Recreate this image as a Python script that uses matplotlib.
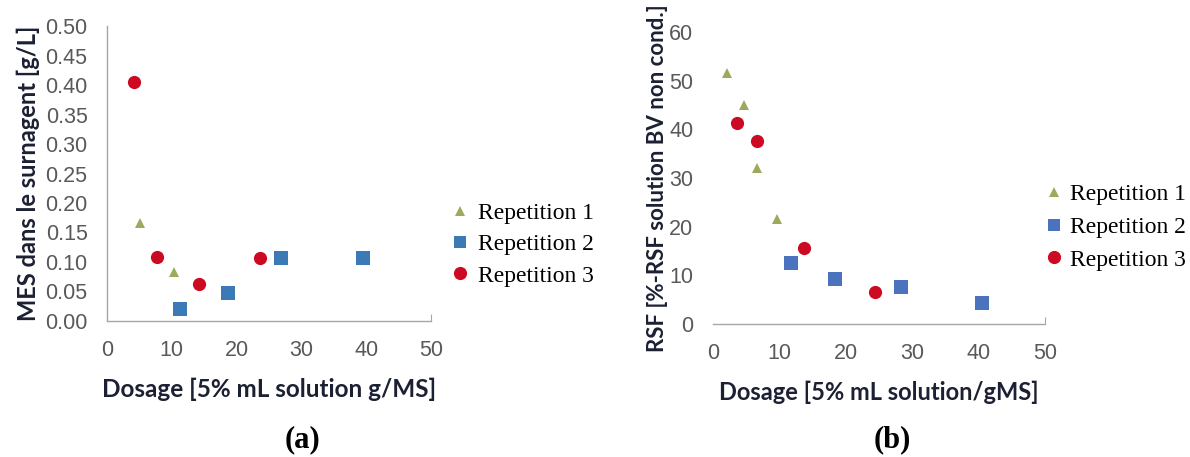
import matplotlib
matplotlib.use("Agg")
import matplotlib.pyplot as plt
from matplotlib.lines import Line2D

# Panel (a): suspended solids in the supernatant vs. dosage
a_rep1_x = [5.1, 10.3]
a_rep1_y = [0.166, 0.083]
a_rep2_x = [11.3, 18.7, 26.8, 39.5]
a_rep2_y = [0.020, 0.047, 0.107, 0.107]
a_rep3_x = [4.2, 7.7, 14.2, 23.6]
a_rep3_y = [0.405, 0.108, 0.063, 0.107]

# Panel (b): RSF vs. dosage
b_rep1_x = [2.2, 4.7, 6.6, 9.6]
b_rep1_y = [51.5, 45.0, 32.0, 21.5]
b_rep2_x = [11.7, 18.4, 28.3, 40.6]
b_rep2_y = [12.5, 9.2, 7.7, 4.4]
b_rep3_x = [3.6, 6.6, 13.8, 24.5]
b_rep3_y = [41.2, 37.5, 15.6, 6.5]

series_labels = ["Repetition 1", "Repetition 2", "Repetition 3"]
a_xticks = [0, 10, 20, 30, 40, 50]
a_yticks = [0.00, 0.05, 0.10, 0.15, 0.20, 0.25, 0.30, 0.35, 0.40, 0.45, 0.50]
b_xticks = [0, 10, 20, 30, 40, 50]
b_yticks = [0, 10, 20, 30, 40, 50, 60]

GREEN = "#9aab5c"
BLUE_A = "#3c7ab6"
BLUE_B = "#4a72bd"
RED = "#cc0a22"
TICK_COL = "#595959"
LABEL_COL = "#1c2033"
AXIS_COL = "#a6a6a6"

fig = plt.figure(figsize=(11.9, 4.57), dpi=100)
fig.patch.set_facecolor("white")

ax_a = fig.add_axes([0.0899, 0.2976, 0.2723, 0.6455])
ax_b = fig.add_axes([0.5990, 0.2910, 0.2790, 0.6390])

styles = [
    dict(marker="^", color=GREEN, ms=7.5),
    dict(marker="s", color=None, ms=9.5),
    dict(marker="o", color=RED, ms=9.5),
]


def plot_panel(ax, data, blue, xticks, yticks, fmt, show_left):
    for (x, y), st, lab in zip(data, styles, series_labels):
        c = st["color"] or blue
        ax.plot(x, y, linestyle="none", marker=st["marker"], color=c,
                markersize=st["ms"], markeredgewidth=0, label=lab, zorder=3)
    ax.set_xlim(xticks[0], xticks[-1])
    ax.set_ylim(yticks[0], yticks[-1])
    ax.set_xticks(xticks)
    ax.set_yticks(yticks)
    ax.set_yticklabels([fmt.format(v) for v in yticks])
    for s in ("top", "right"):
        ax.spines[s].set_visible(False)
    ax.spines["left"].set_visible(show_left)
    for s in ("left", "bottom"):
        ax.spines[s].set_color(AXIS_COL)
        ax.spines[s].set_linewidth(1.0)
    ax.tick_params(axis="x", direction="in", length=5, color=AXIS_COL,
                   labelsize=15.5, labelcolor=TICK_COL, pad=14)
    # only the closing tick at the end of the axis is drawn
    for t in ax.xaxis.get_major_ticks()[:-1]:
        t.tick1line.set_visible(False)
    ax.tick_params(axis="y", length=0, labelsize=15.5, labelcolor=TICK_COL, pad=14)
    for t in ax.get_xticklabels() + ax.get_yticklabels():
        t.set_fontfamily("Liberation Sans")
    ax.set_facecolor("none")


plot_panel(ax_a, [(a_rep1_x, a_rep1_y), (a_rep2_x, a_rep2_y), (a_rep3_x, a_rep3_y)],
           BLUE_A, a_xticks, a_yticks, "{:.2f}", True)
plot_panel(ax_b, [(b_rep1_x, b_rep1_y), (b_rep2_x, b_rep2_y), (b_rep3_x, b_rep3_y)],
           BLUE_B, b_xticks, b_yticks, "{:d}", False)

label_font = dict(family="Lato", weight="bold", color=LABEL_COL)
ax_a.set_xlabel("Dosage [5% mL solution g/MS]", labelpad=12, size=17.5, **label_font)
ax_a.set_ylabel("MES dans le surnagent [g/L]", labelpad=4, size=17, **label_font)
ax_b.set_xlabel("Dosage [5% mL solution/gMS]", labelpad=12, size=17, **label_font)
ax_b.set_ylabel("RSF [%-RSF solution BV non cond.]", labelpad=1, size=16, **label_font)


def add_legend(ax, blue, anchor, spacing, textpad):
    handles = [
        Line2D([], [], linestyle="none", marker="^", color=GREEN, markersize=6.5, markeredgewidth=0),
        Line2D([], [], linestyle="none", marker="s", color=blue, markersize=8.5, markeredgewidth=0),
        Line2D([], [], linestyle="none", marker="o", color=RED, markersize=9.5, markeredgewidth=0),
    ]
    ax.legend(handles, series_labels, loc="center left", bbox_to_anchor=anchor,
              bbox_transform=fig.transFigure,
              frameon=False, handlelength=0.6, handletextpad=textpad,
              labelspacing=spacing, borderaxespad=0, borderpad=0,
              prop=dict(family="Liberation Serif", size=17))


add_legend(ax_a, BLUE_A, (0.3807, 0.465), 0.42, 0.45)
add_legend(ax_b, BLUE_B, (0.8798, 0.503), 0.47, 0.38)

fig.text(0.254, 0.037, "(a)", ha="center", va="center",
         family="Liberation Serif", weight="bold", size=22)
fig.text(0.750, 0.037, "(b)", ha="center", va="center",
         family="Liberation Serif", weight="bold", size=22)

fig.savefig("out.png", dpi=100, facecolor="white")
